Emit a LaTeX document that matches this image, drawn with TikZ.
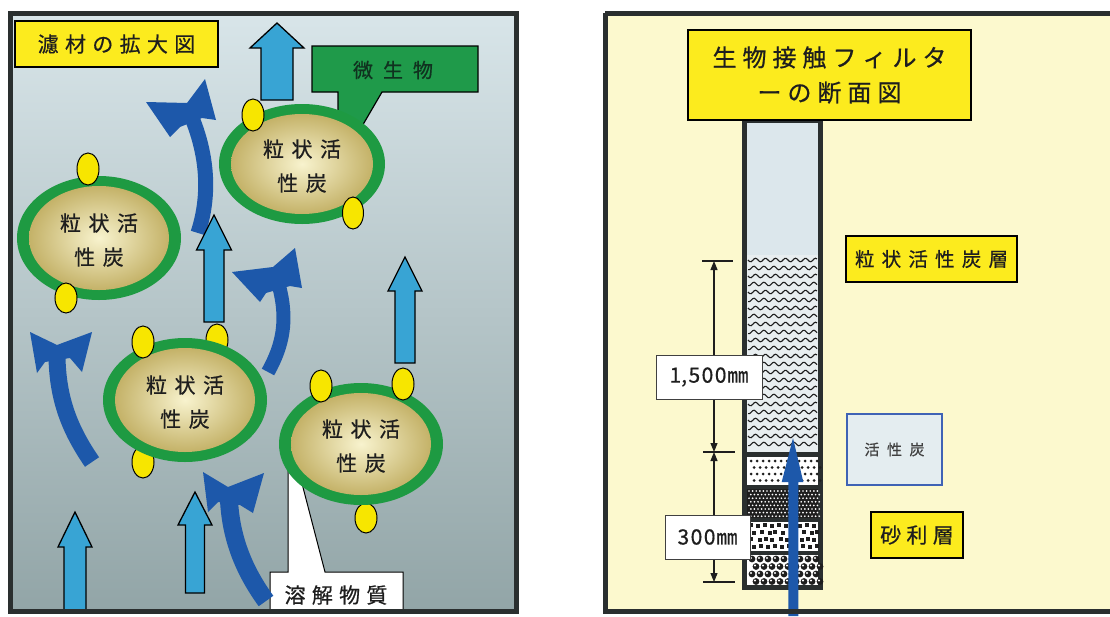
\documentclass[tikz,border=0pt]{standalone}
\usepackage{fontspec}
\setmainfont{Noto Sans CJK JP}[FakeBold=0.6]
\usetikzlibrary{arrows.meta}

\definecolor{panelTop}{HTML}{D8E5E9}
\definecolor{panelBot}{HTML}{92A5A7}
\definecolor{frame}{HTML}{2A2F2F}
\definecolor{lblue}{HTML}{38A4D4}
\definecolor{dblue}{HTML}{1D58AA}
\definecolor{ring}{HTML}{1E9A42}
\definecolor{tanIn}{HTML}{F8F3CE}
\definecolor{tanOut}{HTML}{C4B268}
\definecolor{dotY}{HTML}{F7E600}
\definecolor{labY}{HTML}{FCEB1E}
\definecolor{labG}{HTML}{1F9A4A}
\definecolor{cream}{HTML}{FCF9CE}
\definecolor{colTop}{HTML}{DCE7EC}
\definecolor{waveBg}{HTML}{E8EEF0}
\definecolor{acBox}{HTML}{E4EDF0}
\definecolor{acLine}{HTML}{3F63B5}
\definecolor{ink}{HTML}{1E1E1E}
\definecolor{inkG}{HTML}{10321F}

\newlength\gp
\newcommand\tsp{\hspace{\gp}}

% light blue straight arrow: centre x, tip y, head base y, bottom y, half shaft, half head
\newcommand\liftarrow[6]{%
  \filldraw[lbarrow] (#1-#5,#4) -- (#1-#5,#3) -- (#1-#6,#3) -- (#1,#2)
    -- (#1+#6,#3) -- (#1+#5,#3) -- (#1+#5,#4) -- cycle;}

% granule of activated carbon with its biofilm ring
\newcommand\granule[5]{%
  \fill[ring] (#2,#3) ellipse [x radius=#4, y radius=#5];
  \shade[inner color=tanIn, outer color=tanOut] (#2,#3) ellipse [x radius=#4-12, y radius=#5-10];
  \node[gtext] (#1) at (#2,#3+2) {粒\tsp 状\tsp 活\\性\tsp 炭};}

\tikzset{
  lbarrow/.style={fill=lblue, draw=black, line width=1.3pt, line join=miter},
  dshaft/.style={draw=dblue, line cap=butt},
  dhead/.style={fill=dblue},
  microbe/.style={fill=dotY, draw=black, line width=1pt},
  gtext/.style={align=center, text=ink, inner sep=0pt,
    font=\fontsize{21}{34}\selectfont\setlength\gp{0.36em}},
  ylab/.style={fill=labY, draw=black, line width=1.2pt, inner sep=0pt, text=ink},
  dimlab/.style={fill=white, draw=black!75, line width=0.8pt, inner sep=0pt, text=ink,
    font=\fontsize{21}{24}\selectfont},
  dimline/.style={draw=ink, line width=1.1pt,
    {Triangle[length=9pt,width=7pt]}-{Triangle[length=9pt,width=7pt]}},
  tick/.style={draw=ink, line width=1.1pt},
}

\begin{document}
\begin{tikzpicture}[x=1pt,y=-1pt]
\useasboundingbox (0,0) rectangle (1110,616);
\fill[white] (0,0) rectangle (1110,616);

% ---------------- enlarged filter medium ----------------
\shade[top color=panelTop, bottom color=panelBot] (10,13) rectangle (516,611);

% microorganism callout
\filldraw[fill=labG, draw=black, line width=1.2pt]
  (312,46) -- (478,46) -- (478,92) -- (382,92) -- (361,128) -- (338,118) -- (338,92) -- (312,92) -- cycle;
\node[text=inkG, font=\fontsize{20}{22}\selectfont\setlength\gp{0.5em}] (mb) at (393,70) {微\tsp 生\tsp 物};

% dissolved matter callout
\filldraw[fill=white, draw=black, line width=1pt]
  (270,572) -- (288,572) -- (288,466) -- (299,472) -- (325,572) -- (403,572) -- (403,611) -- (270,611) -- cycle;
\node[text=ink, font=\fontsize{21}{24}\selectfont\setlength\gp{0.3em}] (dm) at (336,595) {溶\tsp 解\tsp 物\tsp 質};

% curved flow arrows
\draw[dshaft, line width=15pt] (192,118) .. controls (205,150) and (212,190) .. (198,233);
\fill[dhead] (146,102) -- (187,103) -- (205,79) -- (216,120) -- (202,118) -- (180,127) -- (170,137) -- cycle;

\draw[dshaft, line width=14pt] (279,286) .. controls (288,320) and (283,345) .. (268,372);
\fill[dhead] (232,272) -- (273,267) -- (295,248) -- (302,288) -- (290,286) -- (266,293) -- (260,302) -- cycle;

\draw[dshaft, line width=17pt] (57,358) .. controls (58,400) and (70,430) .. (92,462);
\fill[dhead] (30,332) -- (57,345) -- (92,332) -- (82,372) -- (70,358) -- (45,362) -- (37,373) -- cycle;

\draw[dshaft, line width=18pt] (229,500) .. controls (231,540) and (245,572) .. (266,601);
\fill[dhead] (203,472) -- (228,487) -- (264,473) -- (253,513) -- (240,505) -- (218,502) -- (208,512) -- cycle;

% straight flow arrows
\liftarrow{277}{23}{48}{100}{16}{27}
\liftarrow{214}{215}{250}{322}{10}{17.5}
\liftarrow{405}{257}{291}{363}{10}{17}
\liftarrow{75}{512}{547}{611}{11}{17}
\liftarrow{195}{492}{525}{593}{9.5}{17}

% microbes partly hidden behind granules
\filldraw[microbe] (217,340) ellipse [x radius=11, y radius=16];
\filldraw[microbe] (143,462) ellipse [x radius=11, y radius=16];
\filldraw[microbe] (366,518) ellipse [x radius=11, y radius=15];

% granules
\granule{g1}{302}{164}{83}{60}
\granule{g2}{99}{238}{82}{62}
\granule{g3}{185}{400}{82}{62}
\granule{g4}{361}{444}{82}{61}

% microbes attached on top
\filldraw[microbe] (253,115) ellipse [x radius=11, y radius=16];
\filldraw[microbe] (353,213) ellipse [x radius=10.5, y radius=16];
\filldraw[microbe] (88,169) ellipse [x radius=11, y radius=16];
\filldraw[microbe] (66,298) ellipse [x radius=11, y radius=15];
\filldraw[microbe] (143,342) ellipse [x radius=11, y radius=16];
\filldraw[microbe] (321,386) ellipse [x radius=11, y radius=16];
\filldraw[microbe] (403,384) ellipse [x radius=11, y radius=16];

% title
\node[ylab, minimum width=203pt, minimum height=46pt,
  font=\fontsize{21}{24}\selectfont\setlength\gp{0.3em}] (t1) at (116.5,44)
  {濾\tsp 材\tsp の\tsp 拡\tsp 大\tsp 図};

\draw[frame, line width=5pt] (10,13) rectangle (516,611);

% ---------------- filter cross-section ----------------
\fill[cream] (605,13) rectangle (1113,611);

% column body
\fill[frame] (742,118) rectangle (823,590);
\fill[colTop] (747,123) rectangle (818,255);
\fill[waveBg] (747,255) rectangle (818,452);
\foreach \r in {0,...,23}
  \draw[ink, line width=1.1pt] plot[domain=748:817, samples=46, smooth]
    (\x, {260 + 8*\r + 1.8*sin((\x-748)*36 + 60*mod(\r,2))});
% fine sand
\fill[white] (747,457) rectangle (818,485);
\foreach \j in {0,...,3}
  \foreach \i in {0,...,11}
    \fill[ink] ({751 + 6*\i + 3*mod(\j,2)}, {461 + 6.5*\j}) circle (1.5);
% coarse sand
\fill[ink] (747,489) rectangle (818,518);
\foreach \j in {0,...,7}
  \foreach \i in {0,...,19}
    \fill[white] ({749 + 3.6*\i + 1.8*mod(\j,2)}, {491 + 3.6*\j}) circle (0.95);
% fine gravel
\fill[white] (747,522) rectangle (818,551);
\foreach \j in {0,...,3}
  \foreach \i in {0,...,9}
    \fill[ink] ({749 + 7*\i + 3*mod(\j,2) + mod(\i*\j,3)}, {523 + 7*\j + mod(\i+\j,2)}) rectangle ++(4.3,4.3);
% coarse gravel
\fill[white] (747,555) rectangle (818,585);
\foreach \j in {0,...,3}
  \foreach \i in {0,...,8}
    {\fill[ink] ({752 + 8*\i + 4*mod(\j,2)}, {559 + 7.5*\j}) circle (3.4);
     \fill[white] ({751 + 8*\i + 4*mod(\j,2)}, {558 + 7.5*\j}) circle (1.1);}

% upward flow through the column
\fill[dblue] (788.3,616) -- (788.3,482) -- (781.7,482) -- (793,438) -- (803.3,482) -- (798.3,482) -- (798.3,616) -- cycle;

% dimensions
\coordinate (dTop) at (714,261);
\coordinate (dMid) at (714,452);
\coordinate (dBot) at (714,582);
\draw[tick] (702,261) -- (733,261);
\draw[tick] (703,452) -- (735,452);
\draw[tick] (703,582) -- (735,582);
\draw[dimline] (dMid) -- (dTop);
\draw[dimline] (dMid) -- (dBot);
\node[dimlab, minimum width=106pt, minimum height=44pt] (d1) at (709,377) {1,\kern1.5pt 5\kern1.5pt 0\kern1.5pt 0\kern1pt ㎜};
\node[dimlab, minimum width=85pt, minimum height=44pt] (d2) at (707.5,537) {3\kern1.5pt 0\kern1.5pt 0\kern1pt ㎜};

% title and layer labels
\node[ylab, minimum width=283pt, minimum height=90pt, align=center,
  font=\fontsize{24}{35}\selectfont\setlength\gp{0.25em}] (t2) at (829.5,75)
  {生\tsp 物\tsp 接\tsp 触\tsp フ\tsp ィ\tsp ル\tsp タ\\ー\tsp の\tsp 断\tsp 面\tsp 図};
\node[ylab, minimum width=171pt, minimum height=46pt,
  font=\fontsize{19.5}{22}\selectfont\setlength\gp{0.37em}] (l1) at (931.5,259)
  {粒\tsp 状\tsp 活\tsp 性\tsp 炭\tsp 層};
\node[fill=acBox, draw=acLine, line width=1.5pt, inner sep=0pt, text=black!75,
  minimum width=95pt, minimum height=71pt,
  font=\fontsize{15}{18}\selectfont\setlength\gp{0.5em}] (l2) at (894.5,449.5)
  {活\tsp 性\tsp 炭};
\node[ylab, minimum width=92pt, minimum height=46pt,
  font=\fontsize{21}{24}\selectfont\setlength\gp{0.25em}] (l3) at (917,535)
  {砂\tsp 利\tsp 層};

\draw[frame, line width=5pt] (605,13) -- (1113,13) (605,13) -- (605,611) -- (1113,611);
\end{tikzpicture}
\end{document}
